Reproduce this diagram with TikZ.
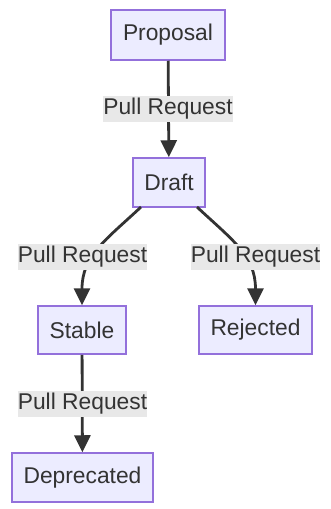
\documentclass[tikz,border=0pt]{standalone}
\usepackage{fontspec}
\setmainfont{Liberation Sans}
\usetikzlibrary{arrows.meta}
\definecolor{nodefill}{HTML}{ECECFF}
\definecolor{nodeline}{HTML}{9370DB}
\definecolor{txt}{HTML}{333333}
\definecolor{edge}{HTML}{333333}
\definecolor{lblbg}{HTML}{E8E8E8}
\tikzset{
  state/.style={draw=nodeline, fill=nodefill, line width=1.5pt, text=txt, inner sep=0pt,
    font=\fontsize{22.8pt}{27pt}\selectfont},
  lbl/.style={fill=lblbg, text=txt, inner xsep=0pt, inner ysep=0pt, minimum height=26pt,
    font=\fontsize{22.8pt}{27pt}\selectfont},
  conn/.style={draw=edge, line width=2.8pt, -{Triangle[length=17pt,width=16pt]}},
}
\begin{document}
\begin{tikzpicture}[x=1pt,y=-1pt]
\useasboundingbox (0,0) rectangle (331,509);
\node[state, minimum width=114pt, minimum height=50pt] (P) at (168,35) {Proposal};
\node[state, minimum width=72pt, minimum height=49pt] (D) at (169,182.5) {Draft};
\node[state, minimum width=88pt, minimum height=48pt] (S) at (82,330) {Stable};
\node[state, minimum width=113pt, minimum height=48pt] (R) at (255.5,330) {Rejected};
\node[state, minimum width=141pt, minimum height=49pt] (X) at (82.5,477.5) {Deprecated};
\coordinate (d1) at (141,207);
\coordinate (d2) at (197,207);
\draw[conn] (P) -- (D);
\draw[conn] (d1) to[out=-137,in=90,looseness=1.1] (S.north);
\draw[conn] (d2) to[out=-43,in=90,looseness=1.1] (R.north);
\draw[conn] (S) -- (X);
\node[lbl] (l1) at (168,108.5) {Pull Request};
\node[lbl] (l2) at (82.5,257) {Pull Request};
\node[lbl] (l3) at (255.5,257) {Pull Request};
\node[lbl] (l4) at (82.5,403.5) {Pull Request};
\end{tikzpicture}
\end{document}
